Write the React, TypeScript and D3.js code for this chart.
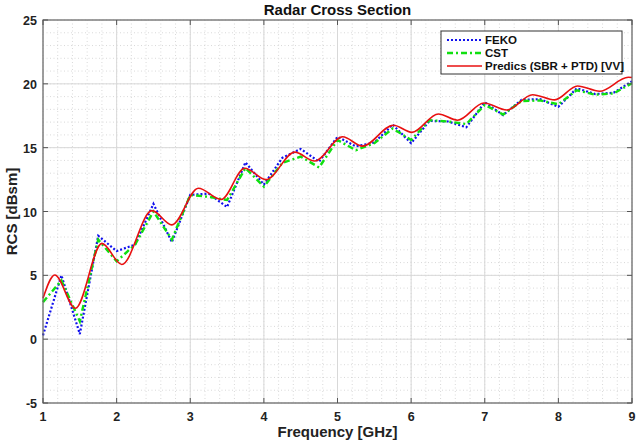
import * as d3 from "d3";

// --- chart data ---
const xTicks = [1, 2, 3, 4, 5, 6, 7, 8, 9];
const yTicks = [-5, 0, 5, 10, 15, 20, 25];

// FEKO and CST are sampled every 0.25 GHz
const sampleFreqs = [
  1, 1.25, 1.5, 1.75, 2, 2.25, 2.5, 2.75, 3, 3.25, 3.5, 3.75, 4, 4.25, 4.5, 4.75,
  5, 5.25, 5.5, 5.75, 6, 6.25, 6.5, 6.75, 7, 7.25, 7.5, 7.75, 8, 8.25, 8.5, 8.75, 9,
];
const fekoValues = [
  0.3, 5.0, 0.4, 8.1, 6.9, 7.4, 10.6, 7.6, 11.3, 11.4, 10.35, 13.85, 12.1, 14.2, 14.9, 13.9,
  15.85, 15.1, 15.4, 16.8, 15.35, 17.1, 17.05, 16.6, 18.55, 17.55, 18.75, 18.8, 18.2, 19.65, 19.2, 19.3, 20.2,
];
const cstValues = [
  2.9, 4.6, 1.4, 7.8, 6.1, 7.4, 10.0, 7.8, 11.3, 11.15, 10.9, 13.4, 11.95, 13.8, 14.3, 13.45,
  15.6, 14.8, 15.35, 16.5, 15.6, 17.15, 17.05, 16.85, 18.35, 17.6, 18.65, 18.7, 18.4, 19.5, 19.15, 19.25, 20.05,
];

// Predics: smooth curve, given at its turning points
const predicsFreqs = [
  1, 1.16, 1.44, 1.8, 2.07, 2.48, 2.75, 3.11, 3.42, 3.74, 4.03, 4.42, 4.69, 5.07,
  5.34, 5.76, 6.01, 6.37, 6.63, 6.99, 7.3, 7.65, 7.95, 8.26, 8.56, 8.95, 9,
];
const predicsValues = [
  3.2, 5.03, 2.42, 7.5, 5.85, 10.07, 8.95, 11.82, 10.95, 13.39, 12.5, 14.65, 13.95, 15.85,
  15.12, 16.76, 16.2, 17.64, 17.15, 18.5, 17.95, 19.15, 18.74, 19.83, 19.42, 20.51, 20.5,
];

const W = 640;
const H = 443;
const margin = { top: 20, right: 8, bottom: 40, left: 43 };
const FONT = "'Liberation Sans', Arial, Helvetica, sans-serif";

type Pt = [number, number];

export default function App() {
  const innerR = W - margin.right;
  const innerB = H - margin.bottom;

  const x = d3.scaleLinear().domain([1, 9]).range([margin.left, innerR]);
  const y = d3.scaleLinear().domain([-5, 25]).range([innerB, margin.top]);

  const straight = d3.line<Pt>().x((d) => x(d[0])).y((d) => y(d[1]));
  const smooth = d3
    .line<Pt>()
    .x((d) => x(d[0]))
    .y((d) => y(d[1]))
    .curve(d3.curveMonotoneX);

  const feko: Pt[] = sampleFreqs.map((f, i) => [f, fekoValues[i]]);
  const cst: Pt[] = sampleFreqs.map((f, i) => [f, cstValues[i]]);
  const predics: Pt[] = predicsFreqs.map((f, i) => [f, predicsValues[i]]);

  // minor grid: 0.2 GHz and 1 dBsm steps
  const xMinor = x.ticks(40);
  const yMinor = y.ticks(30);

  const series = [
    { name: "FEKO", color: "#1010ee", width: 2.2, dash: "2,2" },
    { name: "CST", color: "#10e010", width: 2.4, dash: "6,3,2,3" },
    { name: "Predics (SBR + PTD) [VV]", color: "#e81010", width: 1.6, dash: "" },
  ];

  const legend = { x: 441, y: 31, w: 181, h: 43 };
  const plotMidX = (margin.left + innerR) / 2;
  const plotMidY = (margin.top + innerB) / 2;
  const tickLen = 5;

  return (
    <svg
      width={W}
      height={H}
      style={{ position: "absolute", left: 0, top: 0, background: "#fff" }}
      fontFamily={FONT}
    >
      {/* minor grid */}
      <g stroke="#cfcfcf" strokeWidth={0.8} strokeDasharray="1,2.5">
        {xMinor.map((t) => (
          <line key={"xm" + t} x1={x(t)} x2={x(t)} y1={margin.top} y2={innerB} />
        ))}
        {yMinor.map((t) => (
          <line key={"ym" + t} x1={margin.left} x2={innerR} y1={y(t)} y2={y(t)} />
        ))}
      </g>

      {/* major grid */}
      <g stroke="#d8d8d8" strokeWidth={1}>
        {xTicks.map((t) => (
          <line key={"xg" + t} x1={x(t)} x2={x(t)} y1={margin.top} y2={innerB} />
        ))}
        {yTicks.map((t) => (
          <line key={"yg" + t} x1={margin.left} x2={innerR} y1={y(t)} y2={y(t)} />
        ))}
      </g>

      {/* series */}
      <path d={straight(feko) ?? ""} fill="none" stroke={series[0].color}
        strokeWidth={series[0].width} strokeDasharray={series[0].dash} />
      <path d={straight(cst) ?? ""} fill="none" stroke={series[1].color}
        strokeWidth={series[1].width} strokeDasharray={series[1].dash} />
      <path d={smooth(predics) ?? ""} fill="none" stroke={series[2].color}
        strokeWidth={series[2].width} />

      {/* axes box and ticks */}
      <rect x={margin.left} y={margin.top} width={innerR - margin.left} height={innerB - margin.top}
        fill="none" stroke="#6a6a6a" strokeWidth={1.2} />
      <g stroke="#555" strokeWidth={1}>
        {xTicks.map((t) => (
          <g key={"xt" + t}>
            <line x1={x(t)} x2={x(t)} y1={innerB} y2={innerB - tickLen} />
            <line x1={x(t)} x2={x(t)} y1={margin.top} y2={margin.top + tickLen} />
          </g>
        ))}
        {yTicks.map((t) => (
          <g key={"yt" + t}>
            <line x1={margin.left} x2={margin.left + tickLen} y1={y(t)} y2={y(t)} />
            <line x1={innerR} x2={innerR - tickLen} y1={y(t)} y2={y(t)} />
          </g>
        ))}
      </g>

      {/* tick labels */}
      <g fontSize={12.5} fontWeight="bold" fill="#222">
        {xTicks.map((t) => (
          <text key={"xl" + t} x={x(t)} y={innerB + 18} textAnchor="middle">{t}</text>
        ))}
        {yTicks.map((t) => (
          <text key={"yl" + t} x={margin.left - 6} y={y(t) + 5} textAnchor="end">{t}</text>
        ))}
      </g>

      {/* titles */}
      <text x={plotMidX} y={15} textAnchor="middle" fontSize={15} fontWeight="bold" fill="#111">
        Radar Cross Section
      </text>
      <text x={plotMidX} y={437} textAnchor="middle" fontSize={15} fontWeight="bold" fill="#222">
        Frequency [GHz]
      </text>
      <text transform={`translate(17,${plotMidY}) rotate(-90)`} textAnchor="middle"
        fontSize={15} fontWeight="bold" fill="#222">
        RCS [dBsm]
      </text>

      {/* legend */}
      <rect x={legend.x} y={legend.y} width={legend.w} height={legend.h}
        fill="#fff" stroke="#333" strokeWidth={1} />
      {series.map((s, i) => {
        const ly = legend.y + 9 + i * 13;
        return (
          <g key={s.name}>
            <line x1={legend.x + 6} x2={legend.x + 41} y1={ly} y2={ly} stroke={s.color}
              strokeWidth={s.width} strokeDasharray={s.dash} />
            <text x={legend.x + 44} y={ly + 4} fontSize={11.5} fontWeight="bold" fill="#111">
              {s.name}
            </text>
          </g>
        );
      })}
    </svg>
  );
}
